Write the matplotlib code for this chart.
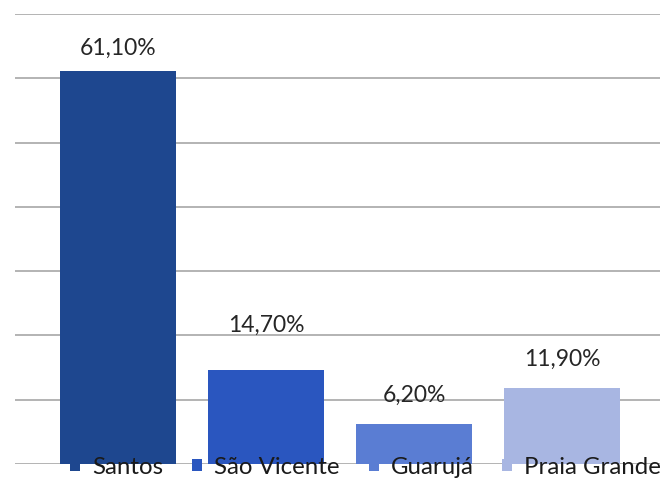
import matplotlib.pyplot as plt
from matplotlib.patches import Patch

cities = ["Santos", "São Vicente", "Guarujá", "Praia Grande"]
shares = [61.10, 14.70, 6.20, 11.90]
colors = ["#1e478f", "#2a56bf", "#5a7dd3", "#a8b6e2"]
label_lift_px = [24, 45, 30, 29]

plt.rcParams['font.family'] = ['Lato', 'DejaVu Sans']

fig = plt.figure(figsize=(6.6, 4.85), dpi=100)
ax = fig.add_axes([15 / 660, 20 / 485, 645 / 660, 450 / 485])

x = list(range(len(cities)))
ax.bar(x, shares, width=0.79, color=colors, zorder=2)

ax.set_xlim(-0.696, 3.662)
ax.set_ylim(0, 70)
ax.set_yticks(range(0, 71, 10))
ax.grid(axis='y', color='#b3b3b3', linewidth=1.4, zorder=0)
ax.tick_params(left=False, bottom=False, labelleft=False, labelbottom=False)
for s in ax.spines.values():
    s.set_visible(False)

for xi, v, lift in zip(x, shares, label_lift_px):
    ax.annotate(f"{v:.2f}%".replace('.', ','), (xi, v),
                xytext=(0, lift), textcoords='offset pixels',
                ha='center', va='center', fontsize=16.5, color='#262626')

handles = [Patch(facecolor=c, edgecolor='none') for c in colors]
leg = ax.legend(handles, cities, ncol=4, loc='center left',
                bbox_to_anchor=(70 / 660, 17 / 485),
                bbox_transform=fig.transFigure, frameon=False,
                fontsize=17.3, handlelength=0.42, handleheight=0.42,
                handletextpad=0.5, columnspacing=1.2,
                borderpad=0, borderaxespad=0,
                labelcolor='#1a1a1a')
leg.set_zorder(5)

fig.savefig("out.png", dpi=100)
